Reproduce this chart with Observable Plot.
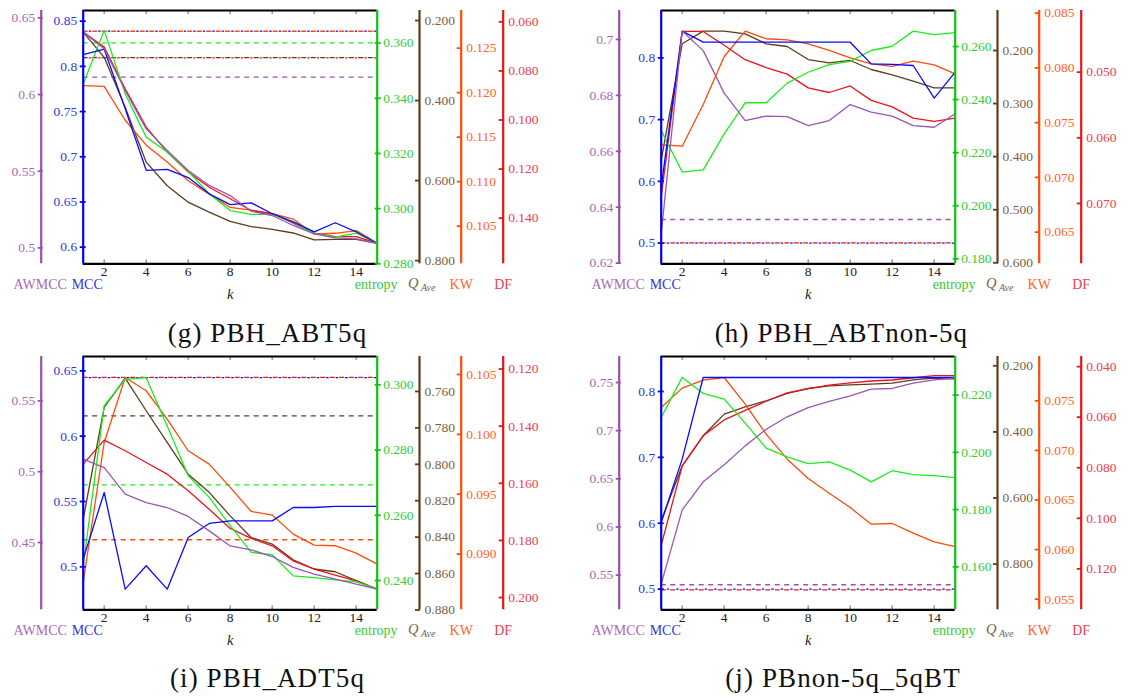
<!DOCTYPE html>
<html><head><meta charset="utf-8">
<script src="https://cdn.jsdelivr.net/npm/d3@7"></script>
<script src="https://cdn.jsdelivr.net/npm/@observablehq/plot@0.6"></script>
<style>
body{margin:0;background:#fff;}
#root{position:relative;width:1128px;height:700px;overflow:hidden;font-family:"Liberation Serif","Times New Roman",Tinos,"DejaVu Serif",serif;}
.panel{position:absolute;}
.cap{position:absolute;font-family:"Liberation Serif","DejaVu Serif",serif;font-size:27px;line-height:27px;letter-spacing:1.1px;white-space:nowrap;transform:translateX(-50%);color:#111;}
</style></head><body><div id="root"></div>
<script>
// ---------------- data ----------------
const ks = [1,2,3,4,5,6,7,8,9,10,11,12,13,14,15];
const xTicks = [2,4,6,8,10,12,14];
const seriesKeys = ["AWMCC","MCC","entropy","QAve","KW","DF"];

// (g) PBH_ABT5q
const gAWMCC   = [0.6407,0.6298,0.6026,0.5776,0.5635,0.5504,0.5407,0.5341,0.5239,0.5211,0.5146,0.5091,0.5065,0.5059,0.5030];
const gMCC     = [0.813,0.819,0.753,0.685,0.686,0.677,0.659,0.647,0.649,0.637,0.628,0.617,0.627,0.617,0.604];
const gEntropy = [0.3452,0.3646,0.3416,0.3259,0.3205,0.3135,0.3054,0.2993,0.2979,0.2979,0.2951,0.2909,0.2897,0.2911,0.2875];
const gQAve    = [0.229,0.292,0.417,0.554,0.613,0.654,0.679,0.702,0.715,0.722,0.731,0.748,0.747,0.747,0.757];
const gKW      = [0.1208,0.1207,0.1169,0.1141,0.1122,0.1101,0.1086,0.1071,0.1068,0.1064,0.1058,0.1041,0.1042,0.1045,0.1031];
const gDF      = [0.0642,0.0703,0.0873,0.1029,0.1131,0.1212,0.1274,0.1321,0.1369,0.1382,0.1420,0.1461,0.1475,0.1475,0.1502];
const gDomains = [[0.4896,0.6548],[0.5816,0.8618],[0.28,0.3718],[0.808,0.175],[0.10077,0.12923],[0.1586,0.05538]];
const gTicks   = [[0.5,0.55,0.6,0.65],[0.6,0.65,0.7,0.75,0.8,0.85],[0.28,0.30,0.32,0.34,0.36],[0.2,0.4,0.6,0.8],[0.105,0.11,0.115,0.12,0.125],[0.06,0.08,0.10,0.12,0.14]];
const gBaselines = [["QAve",0.293],["DF",0.0747],["AWMCC",0.6113],["entropy",0.3601],["KW",0.1269],["MCC",0.839]];

// (h) PBH_ABTnon-5q
const hAWMCC   = [0.6305,0.7030,0.6960,0.6808,0.6710,0.6726,0.6724,0.6692,0.6710,0.6767,0.6740,0.6726,0.6692,0.6686,0.6734];
const hMCC     = [0.5907,0.8432,0.8254,0.8254,0.8254,0.8254,0.8254,0.8254,0.8254,0.8254,0.7903,0.7893,0.7876,0.7348,0.7768];
const hEntropy = [0.2284,0.2127,0.2135,0.2271,0.2388,0.2388,0.2462,0.2503,0.2532,0.2544,0.2585,0.2601,0.2658,0.2645,0.2652];
const hQAve    = [0.4072,0.1874,0.1636,0.1636,0.1686,0.1874,0.1925,0.2170,0.2232,0.2188,0.2358,0.2458,0.2578,0.2703,0.2703];
const hKW      = [0.07298,0.07285,0.07666,0.08104,0.08336,0.08266,0.08256,0.0822,0.08159,0.08092,0.08037,0.08013,0.08062,0.08028,0.07946];
const hDF      = [0.0690,0.0438,0.0438,0.0459,0.0481,0.0493,0.0503,0.0524,0.0531,0.0521,0.0543,0.0553,0.0570,0.0575,0.0570];
const hDomains = [[0.61976,0.71035],[0.4665,0.8767],[0.17812,0.27357],[0.6019,0.12464],[0.06211,0.08524],[0.07919,0.04061]];
const hTicks   = [[0.62,0.64,0.66,0.68,0.7],[0.5,0.6,0.7,0.8],[0.18,0.20,0.22,0.24,0.26],[0.2,0.3,0.4,0.5,0.6],[0.065,0.07,0.075,0.08,0.085],[0.05,0.06,0.07]];
const hBaselines = [["AWMCC",0.6356],["DF",0.0760],["MCC",0.5]];

// (i) PBH_ADT5q
const iAWMCC   = [0.5088,0.5029,0.4841,0.4782,0.4747,0.4684,0.4582,0.4476,0.4448,0.4401,0.4324,0.4276,0.4241,0.4206,0.4171];
const iMCC     = [0.5059,0.5569,0.4829,0.5008,0.4829,0.5224,0.5332,0.5352,0.5352,0.5352,0.5454,0.5454,0.5462,0.5462,0.5462];
const iEntropy = [0.2445,0.2936,0.3017,0.3022,0.2874,0.2721,0.2655,0.2568,0.2486,0.2479,0.2414,0.2409,0.2402,0.2396,0.2374];
const iQAve    = [0.8301,0.7688,0.7527,0.7706,0.7880,0.8054,0.8154,0.8283,0.8402,0.8438,0.8524,0.8575,0.8590,0.8639,0.8685];
const iKW      = [0.08763,0.09932,0.10475,0.10364,0.10127,0.09863,0.09751,0.09557,0.09356,0.09326,0.09167,0.09075,0.09070,0.09008,0.08916];
const iDF      = [0.1533,0.1449,0.1486,0.1527,0.1568,0.1626,0.1691,0.1758,0.1793,0.1819,0.1872,0.1901,0.1922,0.1942,0.1971];
const iDomains = [[0.4025,0.5813],[0.4671,0.6610],[0.2310,0.3087],[0.8799,0.7408],[0.08535,0.10650],[0.2043,0.1156]];
const iTicks   = [[0.45,0.5,0.55],[0.5,0.55,0.6,0.65],[0.24,0.26,0.28,0.30],[0.76,0.78,0.80,0.82,0.84,0.86,0.88],[0.09,0.095,0.1,0.105],[0.12,0.14,0.16,0.18,0.20]];
const iBaselines = [["KW",0.0912],["entropy",0.2693],["QAve",0.7734],["DF",0.1229],["MCC",0.6449]];

// (j) PBnon-5q_5qBT
const jAWMCC   = [0.5407,0.6178,0.6469,0.6645,0.6842,0.7015,0.7144,0.7240,0.7303,0.7361,0.7431,0.7438,0.7493,0.7528,0.7545];
const jMCC     = [0.6012,0.6973,0.8212,0.8212,0.8212,0.8212,0.8212,0.8212,0.8212,0.8212,0.8212,0.8212,0.8212,0.8212,0.8212];
const jEntropy = [0.2122,0.2262,0.2206,0.2186,0.2102,0.2015,0.1984,0.1961,0.1967,0.1938,0.1897,0.1936,0.1922,0.1919,0.1912];
const jQAve    = [0.669,0.5026,0.4118,0.3462,0.324,0.3059,0.2837,0.2686,0.2605,0.2575,0.2555,0.2524,0.2424,0.2373,0.2403];
const jKW      = [0.07433,0.07628,0.07708,0.07735,0.07466,0.07164,0.06912,0.06717,0.06569,0.06424,0.06256,0.06263,0.06166,0.06078,0.06031];
const jDF      = [0.1107,0.0793,0.0673,0.0611,0.0573,0.0537,0.0504,0.0487,0.0473,0.0464,0.0457,0.0453,0.0444,0.0436,0.0436];
const jDomains = [[0.5140,0.7770],[0.4686,0.8531],[0.1450,0.2335],[0.9382,0.1718],[0.05393,0.07947],[0.1362,0.0360]];
const jTicks   = [[0.55,0.6,0.65,0.7,0.75],[0.5,0.6,0.7,0.8],[0.16,0.18,0.20,0.22],[0.2,0.4,0.6,0.8],[0.055,0.06,0.065,0.07,0.075],[0.04,0.06,0.08,0.10,0.12]];
const jBaselines = [["AWMCC",0.5400],["DF",0.1283],["MCC",0.5]];

const captions = ["(g) PBH_ABT5q","(h) PBH_ABTnon-5q","(i) PBH_ADT5q","(j) PBnon-5q_5qBT"];

// ---------------- styles / layout ----------------
const FONT = '"Liberation Serif", "Times New Roman", Tinos, "DejaVu Serif", serif';
const trim = v => String(+v.toFixed(4));
const fix3 = v => v.toFixed(3);
const S = {
  AWMCC:  {color:"#9a4fab", text:"#a968b8", side:"left",  dx:-42,  tickSize:5, inset:2, pad:3, fmt:trim, label:"AWMCC", labelDx:-43},
  MCC:    {color:"#0000f0", text:"#3434e0", side:"left",  dx:0,    tickSize:6, inset:3, pad:3, fmt:trim, label:"MCC",   labelDx:4},
  entropy:{color:"#12c012", text:"#33cc33", side:"right", dx:0,    tickSize:6, inset:3, pad:3, fmt:fix3, label:"entropy", labelDx:-1},
  QAve:   {color:"#5e3c1c", text:"#7a5f45", side:"right", dx:42.3, tickSize:5, inset:5, pad:5, fmt:fix3, label:null},
  KW:     {color:"#ff4a08", text:"#ff6428", side:"right", dx:84,   tickSize:5, inset:5, pad:5, fmt:fix3, label:"KW", labelDx:84},
  DF:     {color:"#e8141c", text:"#ea4050", side:"right", dx:126,  tickSize:5, inset:5, pad:5, fmt:fix3, label:"DF", labelDx:126}
};
const lineColors = {AWMCC:"#9b55b2", MCC:"#0a0aff", entropy:"#1aee1a", QAve:"#5e3c1c", KW:"#ff4a08", DF:"#e8141c"};
const drawOrder = ["QAve","KW","DF","entropy","MCC","AWMCC"];
const W = 550, H = 300, MT = 10, MB = 36.7, ML = 82.7, MR = 173.3;
const FH = H - MT - MB;

const panels = [
  {series:{AWMCC:gAWMCC,MCC:gMCC,entropy:gEntropy,QAve:gQAve,KW:gKW,DF:gDF}, domains:gDomains, ticks:gTicks, baselines:gBaselines, left:0,   top:0,     cap:captions[0], capX:267.5},
  {series:{AWMCC:hAWMCC,MCC:hMCC,entropy:hEntropy,QAve:hQAve,KW:hKW,DF:hDF}, domains:hDomains, ticks:hTicks, baselines:hBaselines, left:578, top:0,     cap:captions[1], capX:841.5},
  {series:{AWMCC:iAWMCC,MCC:iMCC,entropy:iEntropy,QAve:iQAve,KW:iKW,DF:iDF}, domains:iDomains, ticks:iTicks, baselines:iBaselines, left:0,   top:345.7, cap:captions[2], capX:267.5},
  {series:{AWMCC:jAWMCC,MCC:jMCC,entropy:jEntropy,QAve:jQAve,KW:jKW,DF:jDF}, domains:jDomains, ticks:jTicks, baselines:jBaselines, left:578, top:345.7, cap:captions[3], capX:843}
];

function makePanel(P) {
  const sc = {};
  seriesKeys.forEach((key, i) => sc[key] = d3.scaleLinear(P.domains[i], [0, 1]));
  const marks = [];
  // x tick marks (inside frame, top and bottom)
  marks.push(Plot.ruleX(xTicks, {stroke:"#888", strokeWidth:1.3, insetBottom: FH - 4}));
  marks.push(Plot.ruleX(xTicks, {stroke:"#888", strokeWidth:1.3, insetTop: FH - 4}));
  // baselines (dashed); a coinciding later one shows short dashes in the earlier one's gaps
  const seen = [];
  P.baselines.forEach(([key, v]) => {
    const yn = sc[key](v);
    const shared = seen.some(s => Math.abs(s - yn) < 0.012);
    seen.push(yn);
    marks.push(Plot.ruleY([yn], shared
      ? {stroke: lineColors[key], strokeWidth: 1.3, strokeDasharray: "2.5,7", strokeDashoffset: 3.5}
      : {stroke: lineColors[key], strokeWidth: 1.3, strokeDasharray: "5,4.5"}));
  });
  // series lines
  drawOrder.forEach(key => {
    const vals = P.series[key];
    const data = ks.map((k, i) => ({k, y: sc[key](vals[i])}));
    marks.push(Plot.line(data, {x: "k", y: "y", stroke: lineColors[key], strokeWidth: 1.3}));
  });
  // frame top/bottom
  marks.push(Plot.ruleY([0, 1], {stroke: "#000", strokeWidth: 2.2}));
  // y axes
  seriesKeys.forEach((key, i) => {
    const s = S[key];
    const xpos = s.side === "left" ? 1 : 15;
    marks.push(Plot.ruleX([xpos], {dx: s.dx, stroke: s.color, strokeWidth: 2.2}));
    const opts = {
      anchor: s.side, dx: s.dx, tickSize: s.tickSize, tickPadding: s.pad, label: null,
      tickFormat: d => s.fmt(sc[key].invert(d)), color: s.text, stroke: s.color,
      strokeWidth: 1.8, fontSize: 13.5, fontFamily: FONT
    };
    if (s.side === "left") opts.insetLeft = s.inset; else opts.insetRight = s.inset;
    marks.push(Plot.axisY(P.ticks[i].map(sc[key]), opts));
    if (s.label) {
      marks.push(Plot.text([s.label], {x: () => xpos, frameAnchor: "bottom", dx: s.labelDx, dy: 25.5, fill: s.text, fontSize: 14, fontFamily: FONT}));
    }
  });
  // Q_Ave label
  marks.push(Plot.text(["Q"], {x: () => 15, frameAnchor: "bottom", dx: 36, dy: 24.5, fill: S.QAve.text, fontSize: 14.5, fontStyle: "italic", fontFamily: FONT}));
  marks.push(Plot.text(["Ave"], {x: () => 15, frameAnchor: "bottom", dx: 51, dy: 27.5, fill: S.QAve.text, fontSize: 10, fontStyle: "italic", fontFamily: FONT}));
  // x axis labels
  marks.push(Plot.axisX(xTicks, {anchor: "bottom", tickSize: 0, tickPadding: 3, fontSize: 13.5, color: "#222", label: null, fontFamily: FONT}));
  marks.push(Plot.text(["k"], {x: () => 8, frameAnchor: "bottom", dy: 35, fontSize: 14.5, fontStyle: "italic", fill: "#222", fontFamily: FONT}));

  return Plot.plot({
    width: W, height: H,
    marginTop: MT, marginBottom: MB, marginLeft: ML, marginRight: MR,
    x: {domain: [1, 15]},
    y: {domain: [0, 1]},
    style: {fontFamily: FONT, fontSize: "13px", overflow: "visible", background: "transparent"},
    marks
  });
}

const root = document.getElementById("root");
panels.forEach(P => {
  const wrap = document.createElement("div");
  wrap.className = "panel";
  wrap.style.left = P.left + "px";
  wrap.style.top = P.top + "px";
  wrap.appendChild(makePanel(P));
  root.appendChild(wrap);
  const cap = document.createElement("div");
  cap.className = "cap";
  cap.textContent = P.cap;
  cap.style.left = P.capX + "px";
  cap.style.top = (P.top + 333 - 13.5) + "px";
  root.appendChild(cap);
});
</script></body></html>
